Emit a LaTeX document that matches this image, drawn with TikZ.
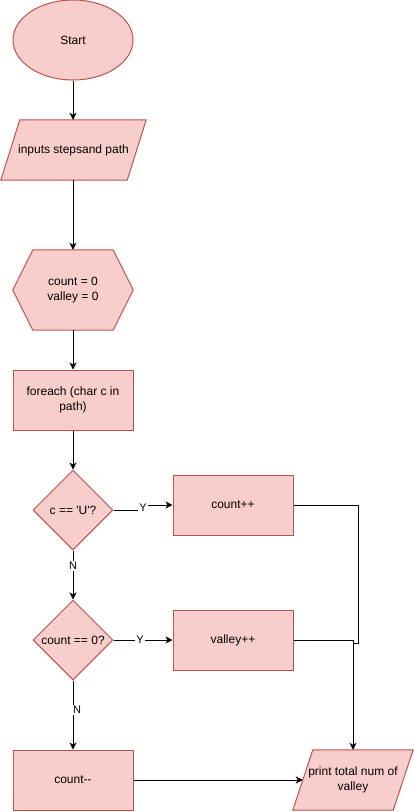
\documentclass[tikz,border=0pt]{standalone}
\usepackage{fontspec}
\setmainfont{Liberation Sans}
\usetikzlibrary{shapes.geometric,arrows.meta}
\definecolor{fillc}{HTML}{F8CECC}
\definecolor{bdr}{HTML}{B85450}
\begin{document}
\begin{tikzpicture}[x=1pt,y=-1pt,
  every node/.style={font=\fontsize{12}{15}\selectfont, align=center, inner sep=0pt},
  shp/.style={draw=bdr, fill=fillc, line width=1pt},
  box/.style={shp, rectangle, minimum width=120pt, minimum height=60pt},
  frame/.style={rectangle, minimum width=#1, minimum height=60pt},
  dec/.style={shp, diamond, minimum width=80pt, minimum height=80pt},
  arr/.style={line width=1pt, -{Stealth[length=7pt,width=7pt,inset=2pt]}},
  ln/.style={line width=1pt},
  lbl/.style={fill=white, font=\fontsize{11}{13}\selectfont, inner sep=1pt}
]
\useasboundingbox (0,0) rectangle (414,812);

% Start
\node[shp, ellipse, minimum width=120pt, minimum height=80pt] (start) at (73,40) {Start};

% input parallelogram
\node[frame=145pt] (inp) at (73.5,150) {};
\draw[shp] ([xshift=19]inp.north west) -- (inp.north east) -- ([xshift=-19]inp.south east) -- (inp.south west) -- cycle;
\node at (inp.center) {inputs stepsand path};

% hexagon
\node[rectangle, minimum width=120pt, minimum height=80pt] (hex) at (73,290) {};
\draw[shp] (hex.west) -- ([xshift=20]hex.north west) -- ([xshift=-20]hex.north east) -- (hex.east) -- ([xshift=-20]hex.south east) -- ([xshift=20]hex.south west) -- cycle;
\node at (hex.center) {count = 0\\valley = 0};

% loop
\node[box] (loop) at (73,400) {foreach (char c in\\path)};

% decisions
\node[dec] (d1) at (73,510) {c == \textquotesingle U\textquotesingle ?};
\node[box] (c1) at (233,505) {count++};
\node[dec] (d2) at (73,640) {count == 0?};
\node[box] (v) at (233,640) {valley++};
\node[box] (dc) at (73,780) {count{-}{-}};

% output parallelogram
\node[frame=120pt] (out) at (353,780) {};
\draw[shp] ([xshift=20]out.north west) -- (out.north east) -- ([xshift=-20]out.south east) -- (out.south west) -- cycle;
\node at (out.center) {print total num of\\valley};

% connectors
\draw[arr] (start.south) -- (inp.north -| start.south);
\draw[arr] (inp.south -| hex.north) -- (hex.north);
\draw[arr] (hex.south) -- (loop.north);
\draw[arr] (loop.south) -- (d1.north);
\draw[arr] (d1.east) -- (143,510) |- (c1.west);
\node[lbl] at (143,508) {Y};
\draw[arr] (d1.south) -- (d2.north) node[lbl, pos=0.32] {N};
\draw[arr] (d2.east) -- (v.west) node[lbl, pos=0.45] {Y};
\draw[arr] (d2.south) -- (dc.north);
\node[lbl] at (77,710) {N};
\draw[arr] (dc.east) -- ([xshift=10]out.west);
\draw[ln] (c1.east) -| (358,643) -- (353,643);
\draw[arr] (v.east) -| (out.north);
\end{tikzpicture}
\end{document}
